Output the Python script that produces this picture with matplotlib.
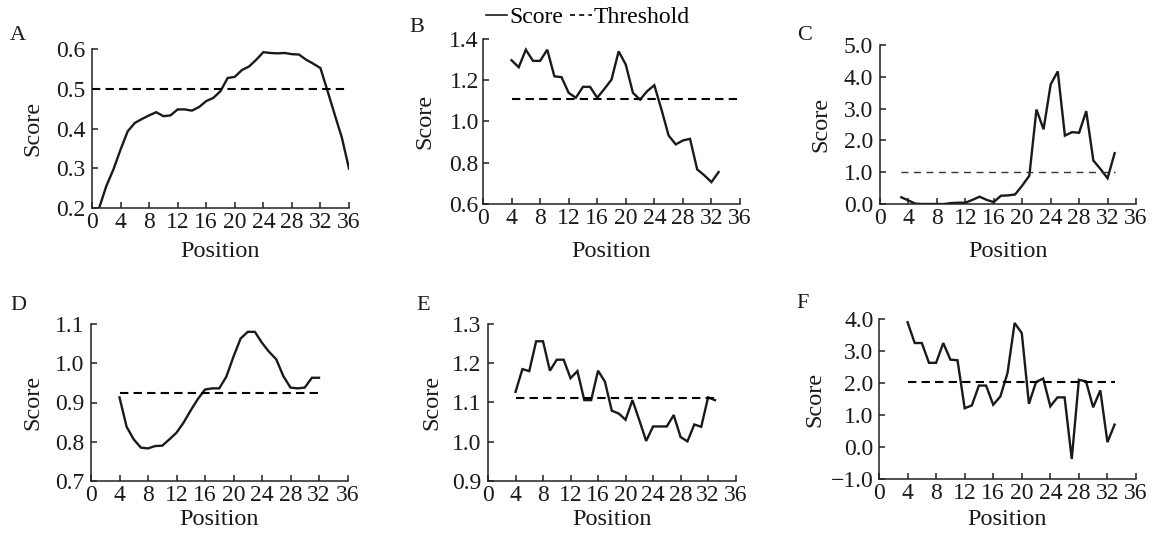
import matplotlib
matplotlib.use("Agg")
import matplotlib.pyplot as plt
from matplotlib.lines import Line2D

plt.rcParams['font.family'] = ['Liberation Serif', 'DejaVu Serif']

# ---------------- data ----------------
pos_a = list(range(1, 37))
score_a = [0.200, 0.255, 0.297, 0.347, 0.393, 0.414, 0.424, 0.433, 0.441, 0.431,
           0.433, 0.448, 0.448, 0.445, 0.454, 0.469, 0.477, 0.494, 0.527, 0.530,
           0.547, 0.556, 0.573, 0.592, 0.590, 0.589, 0.590, 0.587, 0.586, 0.573,
           0.563, 0.552, 0.494, 0.435, 0.377, 0.299]
thr_a = 0.5
thr_a_x = [0, 36]

pos_b = list(range(4, 34))
score_b = [1.297, 1.263, 1.348, 1.294, 1.294, 1.348, 1.219, 1.215, 1.139, 1.115,
           1.168, 1.168, 1.115, 1.158, 1.203, 1.340, 1.276, 1.139, 1.106, 1.147,
           1.176, 1.058, 0.932, 0.889, 0.908, 0.916, 0.768, 0.739, 0.706, 0.755]
thr_b = 1.107
thr_b_x = [4, 36]

pos_c = list(range(3, 34))
score_c = [0.21, 0.11, 0.01, 0.0, 0.0, 0.0, 0.0, 0.03, 0.04, 0.04,
           0.13, 0.23, 0.13, 0.06, 0.26, 0.27, 0.30, 0.58, 0.89, 2.97,
           2.35, 3.76, 4.17, 2.15, 2.26, 2.24, 2.92, 1.37, 1.10, 0.81, 1.60]
thr_c = 1.0
thr_c_x = [3, 33]

pos_d = list(range(4, 33))
score_d = [0.913, 0.838, 0.806, 0.785, 0.783, 0.789, 0.790, 0.806, 0.823, 0.849,
           0.880, 0.909, 0.933, 0.936, 0.936, 0.966, 1.017, 1.063, 1.080, 1.080,
           1.052, 1.029, 1.010, 0.967, 0.938, 0.936, 0.938, 0.963, 0.963]
thr_d = 0.925
thr_d_x = [4, 32]

pos_e = list(range(4, 34))
score_e = [1.127, 1.185, 1.180, 1.256, 1.256, 1.181, 1.209, 1.209, 1.162, 1.180,
           1.106, 1.106, 1.181, 1.153, 1.079, 1.072, 1.056, 1.106, 1.055, 1.002,
           1.039, 1.039, 1.039, 1.068, 1.012, 1.001, 1.044, 1.038, 1.113, 1.106]
thr_e = 1.111
thr_e_x = [4, 33]

pos_f = list(range(4, 34))
score_f = [3.90, 3.25, 3.25, 2.63, 2.63, 3.25, 2.73, 2.71, 1.21, 1.30,
           1.92, 1.92, 1.32, 1.58, 2.31, 3.875, 3.56, 1.35, 2.03, 2.14,
           1.27, 1.55, 1.55, -0.375, 2.10, 2.05, 1.24, 1.77, 0.15, 0.70]
thr_f = 2.04
thr_f_x = [4, 33]

x_ticks = [0, 4, 8, 12, 16, 20, 24, 28, 32, 36]
yticks_a = [0.2, 0.3, 0.4, 0.5, 0.6]
yticks_b = [0.6, 0.8, 1.0, 1.2, 1.4]
yticks_c = [0.0, 1.0, 2.0, 3.0, 4.0, 5.0]
yticks_d = [0.7, 0.8, 0.9, 1.0, 1.1]
yticks_e = [0.9, 1.0, 1.1, 1.2, 1.3]
yticks_f = [-1.0, 0.0, 1.0, 2.0, 3.0, 4.0]

panel_letters = ['A', 'B', 'C', 'D', 'E', 'F']

# ---------------- layout ----------------
W, H = 1154, 539
fig = plt.figure(figsize=(W / 100, H / 100), dpi=100)
FS = 17
LFS = 17.5

# pixel boxes: (x0, x1, ytop, ybot)
boxes = [
    (92, 349, 49, 208),
    (483, 740, 39, 204),
    (880, 1136, 45, 204),
    (91, 347.5, 324, 481),
    (488, 735.6, 324, 481),
    (879, 1136, 319, 479),
]
letter_pos = [(18, 35), (417, 27), (805, 35), (18, 305), (423, 305), (803, 303)]
ylabel_right = [43, 435, 831, 43, 442, 825]
xlabel_top = [241, 241, 241, 509, 509, 509]
ytick_pad = [5, 3, 5, 5, 5, 4]

panels = [
    (pos_a, score_a, thr_a, thr_a_x, yticks_a, 1.5, 'black'),
    (pos_b, score_b, thr_b, thr_b_x, yticks_b, 1.5, 'black'),
    (pos_c, score_c, thr_c, thr_c_x, yticks_c, 1.0, '#333333'),
    (pos_d, score_d, thr_d, thr_d_x, yticks_d, 1.5, 'black'),
    (pos_e, score_e, thr_e, thr_e_x, yticks_e, 1.5, 'black'),
    (pos_f, score_f, thr_f, thr_f_x, yticks_f, 1.5, 'black'),
]

line_color = '#1a1a1a'
for i, (box, pdata) in enumerate(zip(boxes, panels)):
    x0, x1, yt, yb = box
    ax = fig.add_axes([x0 / W, 1 - yb / H, (x1 - x0) / W, (yb - yt) / H])
    pos, score, thr, thr_x, yt_list, tlw, tcol = pdata
    ax.plot(pos, score, color=line_color, lw=1.7, solid_joinstyle='miter')
    ax.plot(thr_x, [thr, thr], color=tcol, lw=tlw,
            linestyle=(0, (4, 2.5)) if tlw > 1.2 else (0, (5, 4)))
    ax.set_xlim(0, 36)
    ax.set_ylim(yt_list[0], yt_list[-1])
    ax.set_xticks(x_ticks)
    ax.set_xticklabels([str(t) for t in x_ticks])
    ax.set_yticks(yt_list)
    ax.set_yticklabels(['{:.1f}'.format(t).replace('-', '\u2212') for t in yt_list])
    for s in ['top', 'right']:
        ax.spines[s].set_visible(False)
    for s in ['left', 'bottom']:
        ax.spines[s].set_linewidth(1.1)
        ax.spines[s].set_color('#222222')
    ax.tick_params(direction='in', length=4, width=1.1, labelsize=FS, colors='#222222')
    ax.tick_params(axis='x', pad=3)
    ax.tick_params(axis='y', pad=ytick_pad[i])
    for lab in ax.get_xticklabels() + ax.get_yticklabels():
        lab.set_color('#1a1a1a')
    ax.set_ylabel('Score', fontsize=LFS, color='#1a1a1a')
    ax.yaxis.set_label_coords((ylabel_right[i] - x0) / (x1 - x0), 0.5)
    ax.set_xlabel('Position', fontsize=LFS, color='#1a1a1a')
    ax.xaxis.set_label_coords(0.5, 1 - (xlabel_top[i] - yt) / (yb - yt))
    ax.patch.set_alpha(0)
    lx, ly = letter_pos[i]
    fig.text(lx / W, 1 - ly / H, panel_letters[i], fontsize=FS - 1, ha='center', va='center',
             color='#1a1a1a')

handles = [Line2D([], [], color=line_color, lw=1.2),
           Line2D([], [], color='black', lw=1.2, linestyle=(0, (3, 2.5)))]
fig.legend(handles, ['Score', 'Threshold'], loc='center', bbox_to_anchor=(588 / W, 1 - 17 / H),
           ncol=2, frameon=False, fontsize=FS, handlelength=0.9, handletextpad=0.1,
           columnspacing=0.3, borderpad=0, borderaxespad=0)

fig.savefig('out.png', dpi=100, facecolor='white')
